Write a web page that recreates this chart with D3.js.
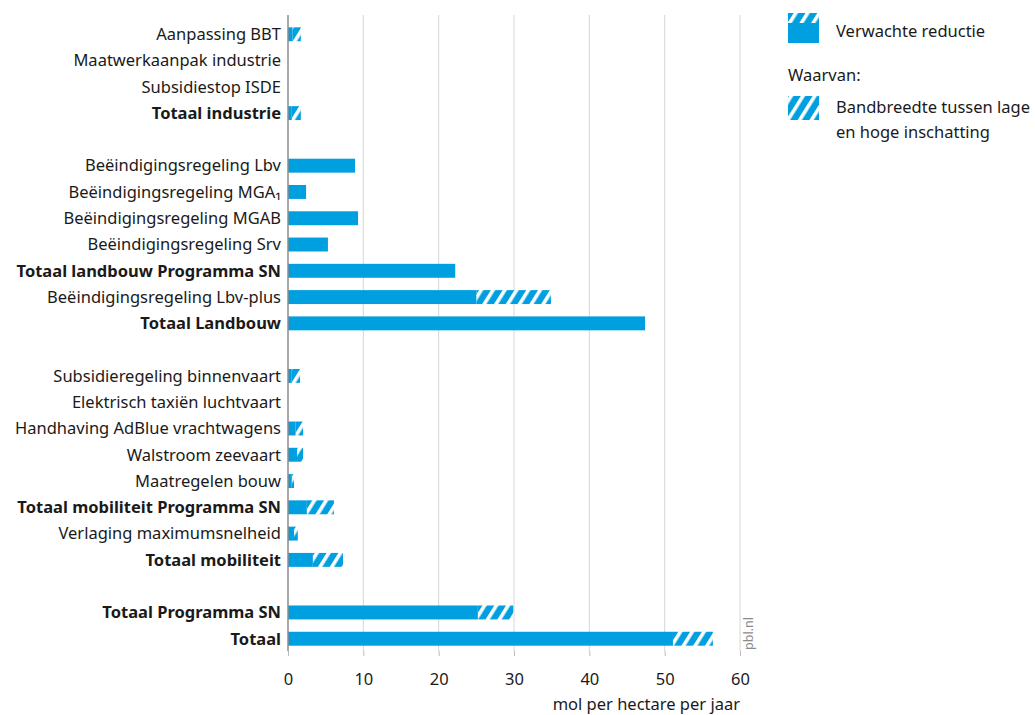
<!DOCTYPE html>
<html><head><meta charset="utf-8">
<script src="https://cdn.jsdelivr.net/npm/d3@7"></script>
<style>
body{margin:0;background:#fff;}
text{font-family:"Noto Sans","Open Sans",sans-serif;fill:#1a1a1a;}
</style></head>
<body><svg id="c" width="1035" height="715"></svg>
<script>
const categories = ["Aanpassing BBT","Maatwerkaanpak industrie","Subsidiestop ISDE","Totaal industrie","",
 "Beëindigingsregeling Lbv","Beëindigingsregeling MGA1","Beëindigingsregeling MGAB","Beëindigingsregeling Srv","Totaal landbouw Programma SN","Beëindigingsregeling Lbv-plus","Totaal Landbouw"," ",
 "Subsidieregeling binnenvaart","Elektrisch taxiën luchtvaart","Handhaving AdBlue vrachtwagens","Walstroom zeevaart","Maatregelen bouw","Totaal mobiliteit Programma SN","Verlaging maximumsnelheid","Totaal mobiliteit","  ",
 "Totaal Programma SN","Totaal"];
const isTotal = ["Totaal industrie","Totaal landbouw Programma SN","Totaal Landbouw","Totaal mobiliteit Programma SN","Totaal mobiliteit","Totaal Programma SN","Totaal"];
const lowValues  = [0.6,0,0,0.5,null, 8.9,2.4,9.3,5.3,22.2,25.0,47.4,null, 0.5,0,1.0,1.2,0.5,2.5,0.8,3.3,null, 25.2,51.1];
const highValues = [1.7,0,0,1.7,null, 8.9,2.4,9.3,5.3,22.2,34.9,47.4,null, 1.6,0,2.0,2.0,0.8,6.1,1.3,7.3,null, 29.9,56.4];
const xTicks = [0,10,20,30,40,50,60];
const xTitle = "mol per hectare per jaar";
const legendLabels = ["Verwachte reductie","Waarvan:","Bandbreedte tussen lage","en hoge inschatting"];

const FS = 16.5;
const blue = "#009fdf";
const svg = d3.select("#c");
const defs = svg.append("defs");
const pat = defs.append("pattern").attr("id","hatch").attr("patternUnits","userSpaceOnUse")
  .attr("width",10).attr("height",10).attr("patternTransform","rotate(32)");
pat.append("rect").attr("width",10).attr("height",10).attr("fill",blue);
pat.append("rect").attr("x",0).attr("width",3.6).attr("height",10).attr("fill","#fff");

const x = d3.scaleLinear().domain([0,60]).range([288,740]);
const y = d3.scaleBand().domain(categories).range([21,652]).paddingInner(0.47).paddingOuter(0.24);

// grid
svg.append("g").selectAll("line").data(xTicks.slice(1)).join("line")
  .attr("x1",d=>x(d)).attr("x2",d=>x(d)).attr("y1",15).attr("y2",651)
  .attr("stroke","#d6d6d6").attr("stroke-width",1);

// bars
const rows = categories.map((c,i)=>({c,lo:lowValues[i],hi:highValues[i]})).filter(d=>d.lo!==null);
svg.append("g").selectAll("rect").data(rows.filter(d=>d.hi>d.lo)).join("rect")
  .attr("x",d=>x(d.lo)).attr("width",d=>x(d.hi)-x(d.lo))
  .attr("y",d=>y(d.c)).attr("height",y.bandwidth()).attr("fill","url(#hatch)");
svg.append("g").selectAll("rect").data(rows).join("rect")
  .attr("x",x(0)).attr("width",d=>x(d.lo)-x(0))
  .attr("y",d=>y(d.c)).attr("height",y.bandwidth()).attr("fill",blue);

// zero axis
svg.append("line").attr("x1",x(0)).attr("x2",x(0)).attr("y1",15).attr("y2",651).attr("stroke","#8c8c8c").attr("stroke-width",1.5);

// x axis
const xa = svg.append("g").attr("transform","translate(0,651)")
  .call(d3.axisBottom(x).tickValues(xTicks).tickSize(5).tickFormat(d3.format("d")));
xa.select(".domain").remove();
xa.selectAll("line").attr("stroke","#bbb");
xa.selectAll("text").attr("font-size",FS).attr("dy","1.55em").style("font-family","'Noto Sans',sans-serif").attr("fill","#1a1a1a");
svg.append("text").attr("x",740).attr("y",710).attr("text-anchor","end").attr("font-size",FS).text(xTitle);

// category labels
svg.append("g").selectAll("text").data(categories.filter(c=>c.trim()!=="")).join("text")
  .attr("x",281).attr("y",d=>y(d)+y.bandwidth()/2).attr("dy","0.35em")
  .attr("text-anchor","end").attr("font-size",FS)
  .attr("font-weight",d=>isTotal.includes(d)?"bold":"normal")
  .text(d=>d==="Beëindigingsregeling MGA1"?"Beëindigingsregeling MGA₁":d);

// pbl.nl
svg.append("text").attr("transform","translate(753,650) rotate(-90)").attr("font-size",12.5).style("fill","#8a8a8a").text("pbl.nl");

// legend
const lg = svg.append("g");
lg.append("rect").attr("x",788).attr("y",22).attr("width",31).attr("height",21).attr("fill",blue);
lg.append("rect").attr("x",788).attr("y",13).attr("width",31).attr("height",10).attr("fill","url(#hatch)");
lg.append("text").attr("x",836).attr("y",31).attr("dy","0.35em").attr("font-size",FS).text(legendLabels[0]);
lg.append("text").attr("x",788).attr("y",75).attr("dy","0.35em").attr("font-size",FS).text(legendLabels[1]);
lg.append("rect").attr("x",788).attr("y",96).attr("width",31).attr("height",24).attr("fill","url(#hatch)");
lg.append("text").attr("x",836).attr("y",107).attr("dy","0.35em").attr("font-size",FS).text(legendLabels[2]);
lg.append("text").attr("x",836).attr("y",132).attr("dy","0.35em").attr("font-size",FS).text(legendLabels[3]);
</script></body></html>
